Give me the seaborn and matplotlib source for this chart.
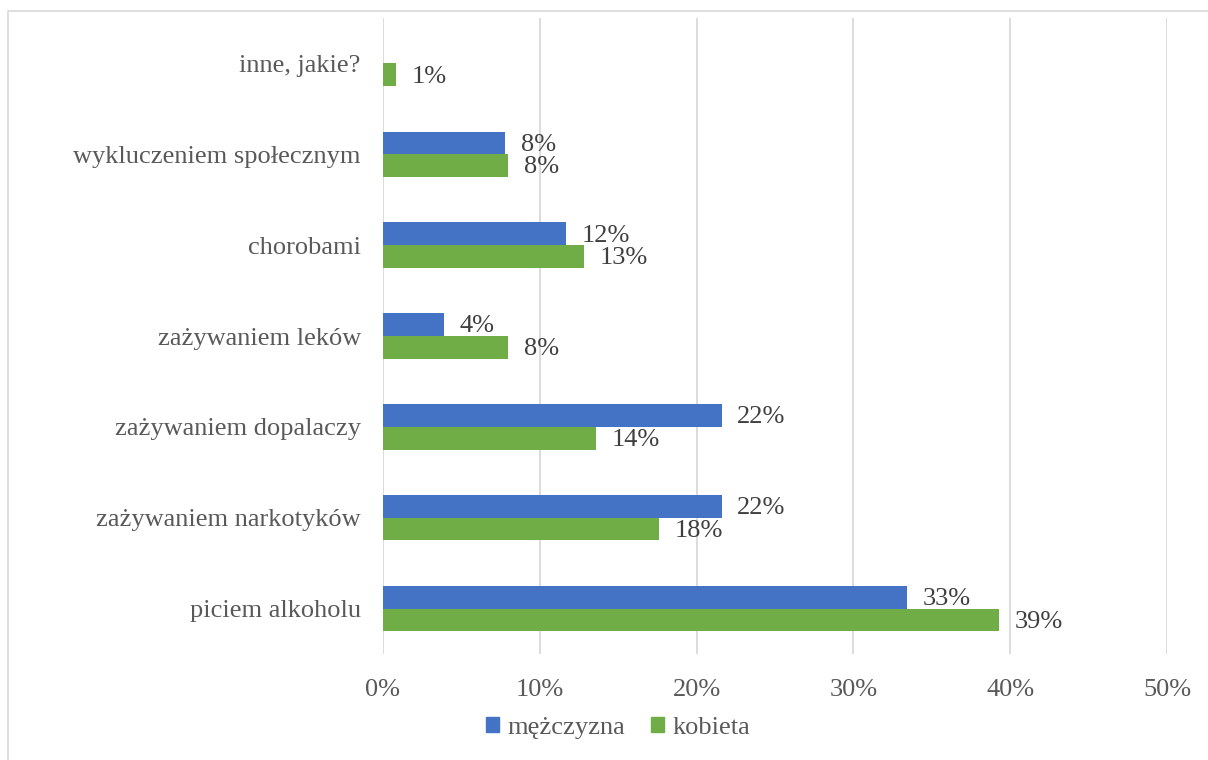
import matplotlib
matplotlib.use("Agg")
import matplotlib.pyplot as plt
import matplotlib.patches as mpatches
from matplotlib.ticker import FuncFormatter, MultipleLocator
import seaborn as sns
import pandas as pd

categories = ["inne, jakie?", "wykluczeniem społecznym", "chorobami",
              "zażywaniem leków", "zażywaniem dopalaczy",
              "zażywaniem narkotyków", "piciem alkoholu"]
men = [0.0, 7.8, 11.7, 3.9, 21.6, 21.6, 33.4]
women = [0.8, 8.0, 12.8, 8.0, 13.6, 17.6, 39.3]
series = ["mężczyzna", "kobieta"]
colors = ["#4472C4", "#70AD47"]

df = pd.DataFrame({
    "kategoria": categories * 2,
    "płeć": [series[0]] * len(categories) + [series[1]] * len(categories),
    "wartość": men + women,
})

sns.set_theme(style="white")
plt.rcParams["font.family"] = ["Liberation Serif", "DejaVu Serif"]

FS = 19

fig = plt.figure(figsize=(12.08, 7.6), dpi=100)
ax = fig.add_axes([383 / 1208, 1 - 654 / 760, (1167 - 383) / 1208, (654 - 18) / 760])

sns.barplot(data=df, y="kategoria", x="wartość", hue="płeć", order=categories,
            hue_order=series, palette=colors, width=0.5, orient="h",
            saturation=1, ax=ax, legend=False, edgecolor="none")

ax.set_xlim(0, 50)
ax.xaxis.set_major_locator(MultipleLocator(10))
ax.xaxis.set_major_formatter(FuncFormatter(lambda v, p: f"{v:.0f}%"))
ax.grid(axis="x", color="#D9D9D9", linewidth=1.3)
ax.grid(axis="y", visible=False)
ax.set_axisbelow(True)
for s in ax.spines.values():
    s.set_visible(False)
ax.set_xlabel("")
ax.set_ylabel("")
ax.tick_params(axis="both", length=0, labelsize=FS, colors="#595959")
ax.tick_params(axis="y", pad=16)
ax.tick_params(axis="x", pad=18)

for cont in ax.containers:
    for bar in cont:
        w = bar.get_width()
        if w <= 0:
            continue
        ax.text(w + 1.0, bar.get_y() + bar.get_height() / 2 + 0.02, f"{round(w):.0f}%",
                va="center", ha="left", fontsize=FS, color="#404040")

handles = [mpatches.Patch(color=c, label=s) for c, s in zip(colors, series)]
fig.legend(handles=handles, loc="center", bbox_to_anchor=(618 / 1208, 1 - 728 / 760),
           ncol=2, frameon=False, fontsize=FS, handlelength=0.5, handleheight=0.5,
           handletextpad=0.3, columnspacing=1.0, labelcolor="#595959")

fig.patches.append(mpatches.Rectangle((8 / 1208, -0.01), 1.0, 1 - 11 / 760 + 0.01,
                                      transform=fig.transFigure, fill=False,
                                      edgecolor="#D9D9D9", linewidth=1.2))

fig.savefig("out.png", dpi=100, facecolor="white")
